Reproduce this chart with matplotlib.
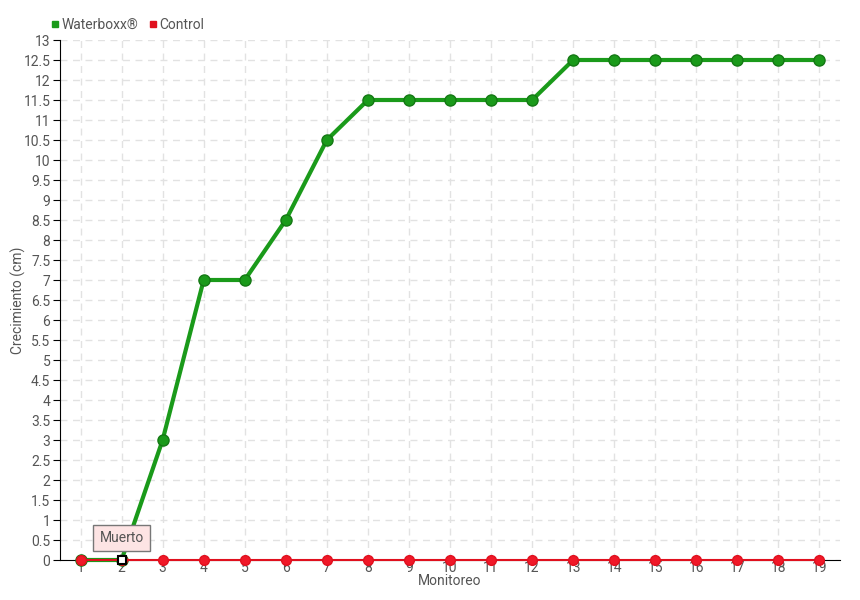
import matplotlib.pyplot as plt
import numpy as np

monitoreo = list(range(1, 20))
waterboxx = [0, 0, 3, 7, 7, 8.5, 10.5, 11.5, 11.5, 11.5, 11.5, 11.5,
             12.5, 12.5, 12.5, 12.5, 12.5, 12.5, 12.5]
control = [0] * 19
yticks = np.arange(0, 13.5, 0.5)
ytick_labels = ['%g' % v for v in yticks]

text_col = '#555555'
plt.rcParams['font.family'] = ['Roboto', 'DejaVu Sans']

fig = plt.figure(figsize=(8.6, 6), dpi=100)
ax = fig.add_axes([60 / 860, 1 - 560 / 600, 780 / 860, 520 / 600])

ax.plot(monitoreo, waterboxx, color='#1a9a1a', lw=3, marker='o', ms=8,
        markerfacecolor='#1a9a1a', markeredgecolor='#147814', zorder=3,
        clip_on=False, label='Waterboxx®')
ax.plot(monitoreo, control, color='#e0101e', lw=1.5, marker='o', ms=7,
        markerfacecolor='#f01828', markeredgecolor='#e0101e', zorder=4,
        clip_on=False, label='Control')
# dead plant marker
ax.plot(monitoreo[1], waterboxx[1], marker='s', ms=6, markerfacecolor='white',
        markeredgecolor='black', mew=1.5, zorder=5, clip_on=False)

ax.annotate('Muerto', xy=(monitoreo[1], waterboxx[1]), xytext=(0, 16),
            textcoords='offset points', ha='center', va='center',
            fontsize=10, color=text_col, zorder=6,
            bbox=dict(boxstyle='square,pad=0.45', fc='#fde4e4', ec='#777777', lw=1),
            arrowprops=dict(arrowstyle='-', color='#777777', lw=0.8, shrinkB=4))

ax.set_xlim(0.5, 19.5)
ax.set_ylim(0, 13)
ax.set_xticks(monitoreo)
ax.set_yticks(yticks)
ax.set_yticklabels(ytick_labels)
ax.tick_params(axis='both', labelsize=10, colors=text_col)
ax.tick_params(axis='x', length=0, pad=1)
ax.tick_params(axis='y', length=5, color='black', direction='out', pad=2)
ax.grid(True, ls=(0, (5, 4)), color='#e2e2e2', lw=1)
ax.set_axisbelow(True)
for s in ['top', 'right']:
    ax.spines[s].set_visible(False)
ax.spines['left'].set_color('black')
ax.spines['bottom'].set_color('black')

fig.text(450 / 860, 1 - 581 / 600, 'Monitoreo', fontsize=10, color=text_col,
         ha='center', va='center')
fig.text(18 / 860, 1 - 300 / 600, 'Crecimiento (cm)', fontsize=10,
         color=text_col, ha='center', va='center', rotation=90)

handles = [plt.Line2D([], [], ls='', marker='s', ms=5, color='#1a9a1a'),
           plt.Line2D([], [], ls='', marker='s', ms=5, color='#e0101e')]
fig.legend(handles, ['Waterboxx®', 'Control'], loc='upper left',
           bbox_to_anchor=(44 / 860, 1 - 12 / 600), ncol=2, frameon=False,
           fontsize=10, labelcolor=text_col, handletextpad=0.1,
           columnspacing=0.6, handlelength=0.8, borderaxespad=0)

fig.savefig('out.png', dpi=100)
